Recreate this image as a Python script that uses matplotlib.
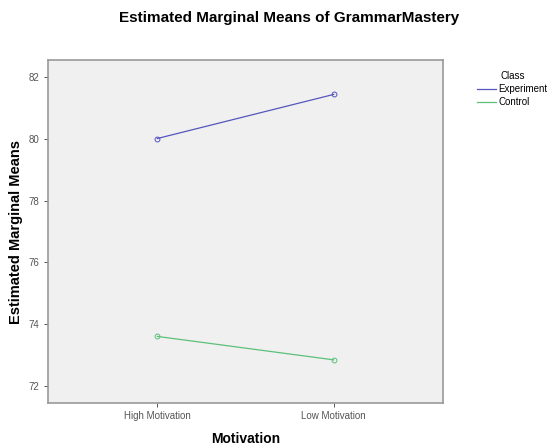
import numpy as np
import matplotlib.pyplot as plt

plt.rcParams['font.family'] = ['Liberation Sans', 'DejaVu Sans']

motivation = ['High Motivation', 'Low Motivation']
classes = ['Experiment', 'Control']
means = {
    'Experiment': [80.02, 81.45],
    'Control': [73.60, 72.84],
}
colors = {'Experiment': '#5555c0', 'Control': '#5cc07a'}
yticks = [72, 74, 76, 78, 80, 82]

fig = plt.figure(figsize=(5.49, 4.46), dpi=100)
ax = fig.add_axes([0.0874, 0.0964, 0.7196, 0.7686])
ax.set_facecolor('#f0f0f0')

x = np.arange(len(motivation))
for c in classes:
    ax.plot(x, means[c], color=colors[c], lw=0.9, marker='o', ms=3.5,
            mfc='none', mew=0.7, label=c)

ax.set_xlim(-0.62, 1.62)
ax.set_ylim(71.44, 82.56)
ax.set_xticks(x)
ax.set_xticklabels(motivation, fontsize=7, color='#444444')
ax.set_yticks(yticks)
ax.set_yticklabels([str(t) for t in yticks], fontsize=7, color='#444444')
ax.tick_params(length=3, width=0.7, colors='#555555', pad=3)
for s in ax.spines.values():
    s.set_color('#999999')
    s.set_linewidth(1.2)

ax.set_xlabel('Motivation', fontsize=10, fontweight='bold', labelpad=8)
ax.set_ylabel('Estimated Marginal Means', fontsize=10.5, fontweight='bold', labelpad=4)
fig.suptitle('Estimated Marginal Means of GrammarMastery', fontsize=11,
             fontweight='bold', x=0.527, y=0.975)

leg = fig.legend(loc='upper left', bbox_to_anchor=(0.853, 0.86), title='Class',
                 fontsize=7, title_fontsize=7, frameon=False,
                 handlelength=1.9, handletextpad=0.3, labelspacing=0.3)
for line in leg.get_lines():
    line.set_marker('')

fig.savefig('out.png', dpi=100)
